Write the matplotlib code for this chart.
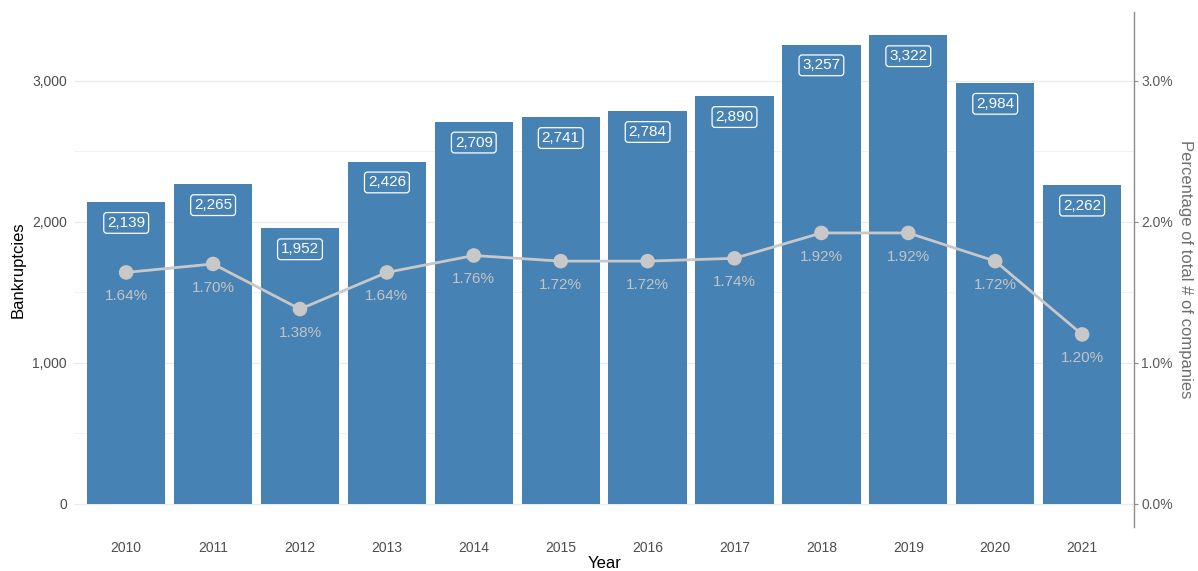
import matplotlib.pyplot as plt
import numpy as np

plt.rcParams['font.family'] = ['Liberation Sans', 'DejaVu Sans']

# Insolvenzen pro Jahr und Anteil an allen Unternehmen
years = ['2010', '2011', '2012', '2013', '2014', '2015', '2016', '2017', '2018', '2019', '2020', '2021']
bankruptcies = [2139, 2265, 1952, 2426, 2709, 2741, 2784, 2890, 3257, 3322, 2984, 2262]
pct_companies = [1.64, 1.70, 1.38, 1.64, 1.76, 1.72, 1.72, 1.74, 1.92, 1.92, 1.72, 1.20]

bar_color = '#4682B4'
line_color = '#c8c8c8'
grid_color = '#ebebeb'

fig = plt.figure(figsize=(11.98, 5.71), dpi=100)
ax = fig.add_axes([0.0618, 0.0771, 0.885, 0.902])

x = np.arange(1, len(years) + 1)
ax.bar(x, bankruptcies, width=0.9, color=bar_color, zorder=2)

# Prozentwerte auf die linke Skala abbilden (3 % entspricht 3.000)
scale = 1000
pct_y = [p * scale for p in pct_companies]
ax.plot(x, pct_y, color=line_color, lw=2, zorder=3)
ax.scatter(x, pct_y, s=110, color=line_color, zorder=4, edgecolors='none')

for xi, p, py in zip(x, pct_companies, pct_y):
    ax.annotate(f'{p:.2f}%', (xi, py), xytext=(0, -17), textcoords='offset points',
                ha='center', va='center', fontsize=11, color='#c4c4c4', zorder=5)

for xi, v in zip(x, bankruptcies):
    ax.annotate(f'{v:,}', (xi, v), xytext=(0, -15), textcoords='offset points',
                ha='center', va='center', fontsize=11, color='white', zorder=5,
                bbox=dict(boxstyle='round,pad=0.22,rounding_size=0.2', fc=bar_color,
                          ec='white', lw=0.9))

ax.set_xlim(0.4, len(years) + 0.6)
ymax = max(bankruptcies)
ax.set_ylim(-0.05 * ymax, 1.05 * ymax)

ax.set_yticks([0, 1000, 2000, 3000])
ax.set_yticklabels(['0', '1,000', '2,000', '3,000'])
ax.set_yticks([500, 1500, 2500], minor=True)
ax.set_xticks(x)
ax.set_xticklabels(years)

ax.grid(axis='y', which='major', color=grid_color, lw=0.9, zorder=0)
ax.grid(axis='y', which='minor', color=grid_color, lw=0.5, zorder=0)
ax.set_axisbelow(True)
for s in ax.spines.values():
    s.set_visible(False)
ax.tick_params(axis='both', which='both', length=0, labelsize=10, labelcolor='#4d4d4d')
ax.tick_params(axis='x', pad=10)
ax.tick_params(axis='y', pad=5)

ax.set_xlabel('Year', fontsize=12, color='black', va='center')
ax.xaxis.set_label_coords(0.5, -0.070)
ax.set_ylabel('Bankruptcies', fontsize=12, color='black', va='center')
ax.yaxis.set_label_coords(-0.053, 0.5)

# Zweite Achse rechts für den Prozentanteil
ax2 = ax.twinx()
ax2.set_ylim(ax.get_ylim()[0] / scale, ax.get_ylim()[1] / scale)
ax2.set_yticks([0, 1, 2, 3])
ax2.set_yticklabels(['0.0%', '1.0%', '2.0%', '3.0%'])
for k, s in ax2.spines.items():
    s.set_visible(k == 'right')
ax2.spines['right'].set_color('#8c8c8c')
ax2.spines['right'].set_linewidth(1.0)
ax2.tick_params(axis='y', length=3, color='#8c8c8c', labelsize=10, labelcolor='#5a5a5a', pad=2)
ax2.set_ylabel('Percentage of total # of companies', rotation=270, fontsize=12,
               color='#6e6e6e', va='center')
ax2.yaxis.set_label_coords(1.048, 0.5)

fig.savefig('out.png', dpi=100)
